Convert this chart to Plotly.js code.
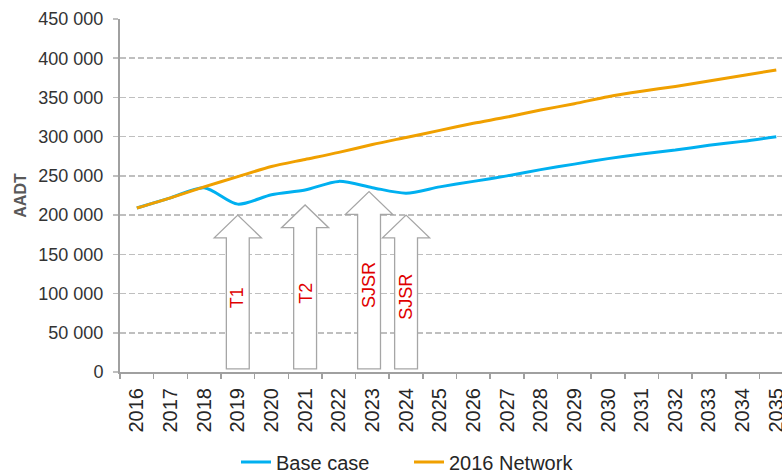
<!DOCTYPE html>
<html lang="en">
<head>
    <meta charset="UTF-8">
    <title>AADT forecast</title>
    <script src="https://cdn.plot.ly/plotly-3.0.1.min.js"></script>
    <style>
        body { margin: 0; padding: 0; background: white; overflow: hidden; }
        #plot { width: 782px; height: 474px; }
    </style>
</head>
<body>
    <div id="plot"></div>
    <script>
        // years on the category axis
        const years = ['2016', '2017', '2018', '2019', '2020', '2021', '2022', '2023', '2024', '2025',
                       '2026', '2027', '2028', '2029', '2030', '2031', '2032', '2033', '2034', '2035'];

        // AADT values
        const baseCase = [209000, 222000, 235000, 214000, 226000, 232000, 243000, 235000, 228000, 236000,
                          243000, 250000, 258000, 265000, 272000, 278000, 283000, 289000, 294000, 300000];
        const network2016 = [209000, 222000, 236000, 249000, 262000, 271000, 280000, 290000, 299000, 308000,
                             317000, 325000, 334000, 342000, 351000, 358000, 364000, 371000, 378000, 385000];

        // project openings (arrows): category index, tip value, label, label value
        const arrowPos = [3, 5, 6.9, 8];
        const arrowTip = [200000, 213000, 230000, 200000];
        const arrowLabel = ['T1', 'T2', 'SJSR', 'SJSR'];
        const arrowLabelY = [95000, 100000, 111000, 96000];

        const SHAFT = 0.34, HEAD = 0.70, HEAD_H = 29000, BASE = 4000;

        function arrowPath(x, tip) {
            const neck = tip - HEAD_H;
            return 'M' + (x - SHAFT) + ',' + BASE +
                ' L' + (x - SHAFT) + ',' + neck +
                ' L' + (x - HEAD) + ',' + neck +
                ' L' + x + ',' + tip +
                ' L' + (x + HEAD) + ',' + neck +
                ' L' + (x + SHAFT) + ',' + neck +
                ' L' + (x + SHAFT) + ',' + BASE + ' Z';
        }

        const shapes = arrowPos.map((x, i) => ({
            type: 'path',
            xref: 'x', yref: 'y',
            path: arrowPath(x, arrowTip[i]),
            fillcolor: 'white',
            line: { color: '#A6A6A6', width: 1.3 },
            layer: 'above'
        }));

        const annotations = arrowPos.map((x, i) => ({
            x: x, y: arrowLabelY[i],
            xref: 'x', yref: 'y',
            text: arrowLabel[i],
            textangle: -90,
            showarrow: false,
            font: { family: 'Liberation Sans, Arial, sans-serif', size: 18, color: '#E00000' }
        }));

        const traces = [
            {
                x: years, y: baseCase,
                type: 'scatter', mode: 'lines', name: 'Base case',
                line: { color: '#00B0F0', width: 3, shape: 'spline', smoothing: 0.8 }
            },
            {
                x: years, y: network2016,
                type: 'scatter', mode: 'lines', name: '2016 Network',
                line: { color: '#F0A000', width: 3, shape: 'spline', smoothing: 0.8 }
            }
        ];

        const layout = {
            width: 782, height: 474,
            margin: { l: 120, r: 0, t: 19, b: 102 },
            paper_bgcolor: 'white', plot_bgcolor: 'white',
            separators: '. ',
            font: { family: 'Liberation Sans, Arial, sans-serif', color: '#333333' },
            xaxis: {
                type: 'category',
                range: [-0.5, 19.17],
                tickson: 'boundaries',
                ticks: 'outside', ticklen: 5, tickcolor: '#A0A0A0', tickwidth: 1.5,
                tickangle: -90,
                tickfont: { size: 20, color: '#262626' },
                ticklabelstandoff: 6,
                showline: true, linecolor: '#A0A0A0', linewidth: 2,
                showgrid: false, zeroline: false,
                automargin: false
            },
            yaxis: {
                range: [0, 450000],
                tickvals: [0, 50000, 100000, 150000, 200000, 250000, 300000, 350000, 400000, 450000],
                tickformat: ',d',
                ticks: 'outside', ticklen: 5, tickcolor: '#BFBFBF', tickwidth: 1.5,
                tickfont: { size: 18, color: '#333333' },
                ticklabelstandoff: 6,
                showline: true, linecolor: '#A0A0A0', linewidth: 2,
                showgrid: true, gridcolor: '#BFBFBF', gridwidth: 1.5, griddash: '6px,3px',
                zeroline: false,
                automargin: false,
                title: { text: '<b>AADT</b>', font: { size: 16, color: '#595959' }, standoff: 8 }
            },
            showlegend: true,
            legend: {
                orientation: 'h',
                xref: 'container', yref: 'container',
                x: 236 / 782, xanchor: 'left',
                y: 1 - 462 / 474, yanchor: 'middle',
                entrywidth: 128,
                font: { size: 20, color: '#262626' },
                bgcolor: 'rgba(0,0,0,0)'
            },
            shapes: shapes,
            annotations: annotations
        };

        Plotly.newPlot('plot', traces, layout, { displayModeBar: false, staticPlot: true });
    </script>
</body>
</html>
